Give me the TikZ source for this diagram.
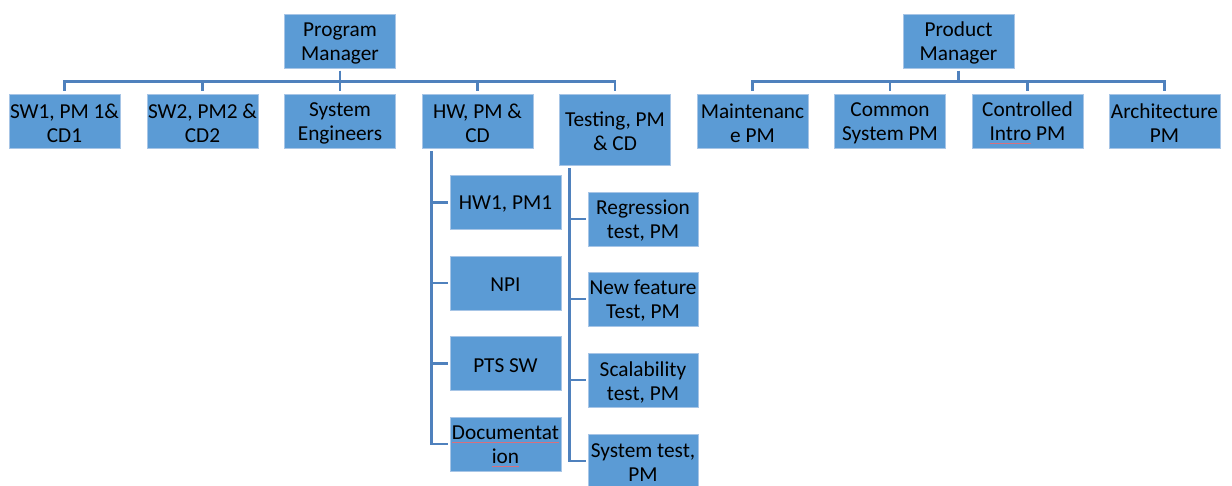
\documentclass[tikz,border=0pt]{standalone}
\usepackage{fontspec}
\setmainfont{Carlito}
\usetikzlibrary{calc}
\definecolor{boxfill}{HTML}{5B9BD5}
\definecolor{boxedge}{HTML}{A7C5E6}
\definecolor{conncol}{HTML}{4F81BD}
\definecolor{spellred}{HTML}{D8707E}
\newlength\spellw
\newcommand\spellmark[1]{\settowidth\spellw{#1}\rlap{\textcolor{spellred}{\rule[-3.5pt]{\spellw}{0.8pt}}}#1}
\tikzset{
  lbl/.style={align=center, inner sep=0pt, yshift=-2pt,
    font=\fontsize{21.3}{24}\selectfont, text=black},
  box/.style={rectangle, fill=boxfill, draw=boxedge, line width=0.6pt,
    minimum width=111pt, minimum height=54pt, inner sep=0pt,
    label={[lbl]center:#1}},
  conn/.style={draw=conncol, line width=2.8pt, shorten <=2.5pt, shorten >=2.5pt},
  spine/.style={draw=conncol, line width=2.8pt}
}
\begin{document}
\begin{tikzpicture}[x=1pt,y=-1pt]
\useasboundingbox (0,0) rectangle (1232,485);
% left tree
\node[box={Program\\Manager}] (pm) at (340,41) {};
\node[box={SW1, PM 1\&\\CD1}] (sw1) at (64.5,121) {};
\node[box={SW2, PM2 \&\\CD2}] (sw2) at (202.5,121) {};
\node[box={System\\Engineers}] (se) at (340,121) {};
\node[box={HW, PM \&\\CD}] (hw) at (477.5,121) {};
\node[box={Testing, PM\\\& CD}, minimum height=71pt] (ts) at (615,129.5) {};
% hw children
\node[box={HW1, PM1}] (hw1) at (505.5,202.5) {};
\node[box={NPI}] (npi) at (505.5,283) {};
\node[box={PTS SW}] (pts) at (505.5,363.5) {};
\node[box={\spellmark{Documentat}\\\spellmark{ion}}] (doc) at (505.5,444) {};
% testing children
\node[box={Regression\\test, PM}, minimum width=110pt] (reg) at (643,219) {};
\node[box={New feature\\Test, PM}, minimum width=110pt] (nft) at (643,299) {};
\node[box={Scalability\\test, PM}, minimum width=110pt] (sca) at (643,380) {};
\node[box={System test,\\PM}, minimum width=110pt] (sys) at (643,461) {};
% right tree
\node[box={Product\\Manager}] (prm) at (958.5,41) {};
\node[box={Maintenanc\\e PM}] (mnt) at (752.5,121) {};
\node[box={Common\\System PM}] (cmn) at (890,121) {};
\node[box={Controlled\\\spellmark{Intro} PM}] (cti) at (1027.5,121) {};
\node[box={Architecture\\PM}] (arc) at (1164.5,121) {};
% connectors left
\foreach \c in {sw1,sw2,se,hw,ts}
  \draw[conn] (pm.south) -- ++(0,13) -| (\c.north);
% connectors right
\foreach \c in {mnt,cmn,cti,arc}
  \draw[conn] (prm.south) -- ++(0,13) -| (\c.north);
% hw spine
\coordinate (hwtop) at ($(hw.south west)+(10,3)$);
\foreach \c in {hw1,npi,pts,doc}
  \draw[spine, shorten >=2pt] (hwtop) |- (\c.west);
% testing spine
\coordinate (tstop) at ($(ts.south west)+(10,3)$);
\foreach \c in {reg,nft,sca,sys}
  \draw[spine, shorten >=2pt] (tstop) |- (\c.west);
\end{tikzpicture}
\end{document}
